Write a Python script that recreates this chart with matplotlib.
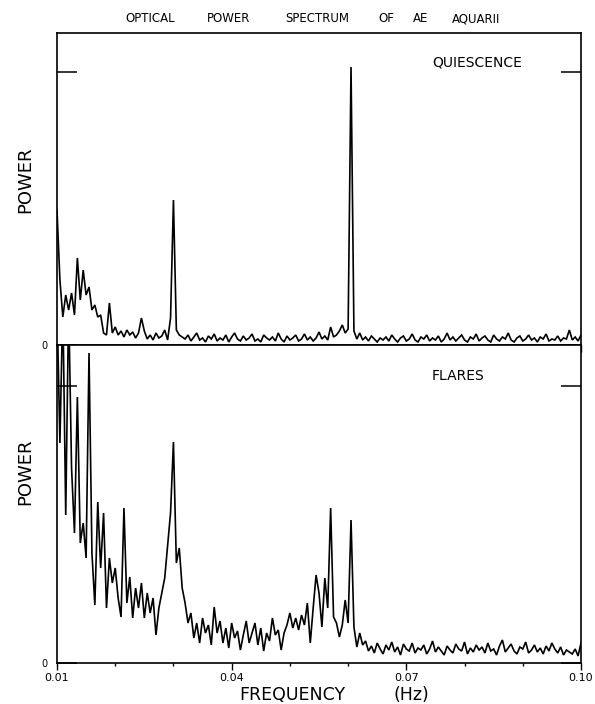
import matplotlib.pyplot as plt
import numpy as np

# frequency bins of the periodogram (Hz)
freq = np.linspace(0.01, 0.10, 181)

# power, arbitrary units
quiescence = [135, 65, 28, 50, 35, 52, 30, 87, 45, 75,
              50, 58, 35, 40, 28, 30, 12, 10, 42, 12,
              18, 10, 14, 8, 15, 10, 13, 7, 12, 27,
              14, 6, 10, 5, 12, 7, 9, 15, 5, 27,
              145, 15, 10, 8, 6, 10, 4, 8, 12, 5,
              7, 3, 9, 6, 11, 4, 7, 5, 10, 3,
              8, 12, 6, 4, 9, 5, 7, 11, 4, 6,
              3, 10, 7, 5, 8, 4, 12, 6, 3, 9,
              5, 7, 10, 4, 6, 11, 5, 8, 4, 7,
              13, 6, 9, 5, 18, 8, 10, 14, 20, 12,
              16, 278, 14, 6, 12, 5, 8, 4, 9, 6,
              3, 7, 5, 8, 4, 10, 6, 3, 7, 9,
              4, 6, 11, 5, 3, 8, 6, 10, 4, 7,
              5, 9, 3, 6, 12, 5, 8, 4, 7, 10,
              5, 3, 8, 6, 11, 4, 7, 9, 5, 3,
              10, 6, 4, 8, 6, 12, 5, 3, 7, 9,
              4, 6, 10, 5, 7, 3, 8, 6, 11, 4,
              6, 5, 9, 4, 7, 6, 15, 5, 8, 4,
              10]

flares = [360, 220, 360, 148, 360, 195, 130, 266, 120, 140,
          105, 310, 110, 58, 161, 95, 150, 55, 105, 80,
          95, 65, 46, 155, 60, 86, 45, 75, 55, 80,
          45, 70, 50, 65, 28, 55, 70, 85, 118, 150,
          221, 100, 115, 75, 60, 40, 50, 25, 40, 20,
          45, 30, 38, 18, 56, 30, 42, 20, 35, 15,
          40, 25, 32, 13, 28, 42, 20, 30, 40, 18,
          35, 12, 30, 22, 45, 28, 33, 13, 30, 38,
          50, 35, 45, 33, 48, 38, 60, 20, 55, 88,
          70, 36, 85, 55, 155, 46, 40, 26, 38, 63,
          40, 143, 36, 16, 30, 18, 22, 12, 17, 10,
          20, 14, 9, 18, 13, 21, 11, 16, 8, 19,
          14, 12, 20, 10, 15, 13, 18, 9, 14, 22,
          11, 16, 12, 8, 17, 13, 10, 19, 14, 12,
          21, 9, 15, 11, 18, 13, 16, 10, 20, 12,
          14, 8, 17, 23, 11, 15, 19, 12, 9, 16,
          14, 21, 10, 13, 18, 11, 15, 9, 17, 12,
          20, 14, 10, 16, 8, 13, 11, 9, 14, 7,
          20]

major_ticks = [0.01, 0.04, 0.07, 0.10]
minor_ticks = [0.02, 0.03, 0.05, 0.06, 0.08, 0.09]
tick_labels = ['0.01', '0.04', '0.07', '0.10']

W, H = 595, 704
fig = plt.figure(figsize=(W / 100, H / 100), dpi=100)
ax1 = fig.add_axes([57 / W, 1 - 345 / H, 524 / W, 312 / H])
ax2 = fig.add_axes([57 / W, 1 - 663 / H, 524 / W, 318 / H])

narrow = ['Liberation Sans Narrow', 'DejaVu Sans']

for ax, power, top, ref in [(ax1, quiescence, 312, 273), (ax2, flares, 318, 277)]:
    ax.plot(freq, power, color='black', lw=1.2, solid_joinstyle='miter')
    ax.set_xlim(0.01, 0.10)
    ax.set_ylim(0, top)
    ax.set_yticks([0, ref])
    ax.set_yticklabels(['0', ''])
    ax.tick_params(axis='y', direction='in', length=14.5, width=1.1,
                   left=True, right=True, pad=7, labelsize=7)
    ax.set_xticks(major_ticks)
    ax.set_xticks(minor_ticks, minor=True)
    ax.tick_params(axis='x', which='major', direction='out', length=5, width=1)
    ax.tick_params(axis='x', which='minor', direction='out', length=2.5, width=1)
    for s in ax.spines.values():
        s.set_linewidth(1.2)

ax1.tick_params(axis='x', labelbottom=False)
ax2.set_xticklabels(tick_labels)
ax2.tick_params(axis='x', labelsize=8, pad=2.5)

# title, word by word (the original lettering is widely spaced)
title_words = ['OPTICAL', 'POWER', 'SPECTRUM', 'OF', 'AE', 'AQUARII']
word_x = [150, 229, 317, 386, 421, 476]
for w, xc in zip(title_words, word_x):
    fig.text(xc / W, 1 - 19 / H, w, ha='center', va='center', fontsize=8.5)

fig.text(432 / W, 1 - 62 / H, 'QUIESCENCE', ha='left', va='center', fontsize=10)
fig.text(432 / W, 1 - 376 / H, 'FLARES', ha='left', va='center', fontsize=10)

fig.text(25 / W, 1 - 180 / H, 'POWER', rotation=90, ha='center', va='center',
         fontsize=13, family=narrow)
fig.text(25 / W, 1 - 472 / H, 'POWER', rotation=90, ha='center', va='center',
         fontsize=13, family=narrow)

fig.text(292 / W, 1 - 695 / H, 'FREQUENCY', ha='center', va='center', fontsize=12.5)
fig.text(411 / W, 1 - 695 / H, '(Hz)', ha='center', va='center', fontsize=12.5)

fig.savefig('out.png', dpi=100)
